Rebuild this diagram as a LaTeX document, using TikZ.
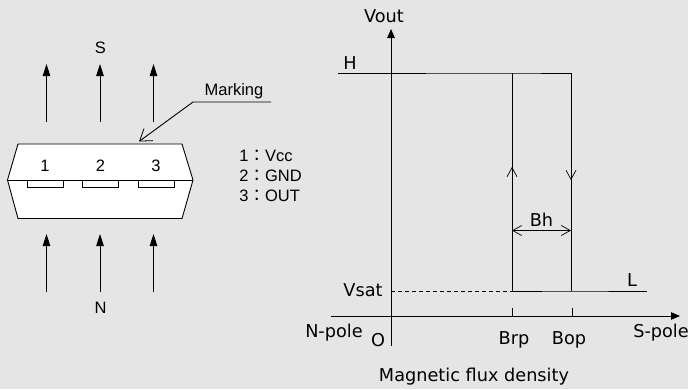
\documentclass[tikz,border=0pt]{standalone}
\usepackage{fontspec}
\setmainfont{Liberation Sans}
\newfontfamily\graphfont{DejaVu Sans}
\newfontfamily\cjkfont{Noto Sans CJK JP}
\usepackage{xcolor}
\usetikzlibrary{
    arrows.meta
}
\definecolor{paper}{HTML}{E5E5E5}
\begin{document}
\begin{tikzpicture}[x=1pt,y=-1pt,line width=0.9pt,
    solidtip/.style={-{Stealth[length=12pt,width=7.5pt,inset=0pt]}},
    opentip/.tip={Straight Barb[length=9pt,width=10pt,line width=0.7pt]},
    opentiplong/.tip={Straight Barb[length=11pt,width=15pt,line width=0.8pt]},
    pkgtext/.style={inner sep=0pt,font=\fontsize{16.5}{18}\selectfont},
    graphtext/.style={inner sep=0pt,font=\graphfont\fontsize{17.7}{19}\selectfont}]
	\useasboundingbox[fill=paper] (0,0) rectangle (688,389);

	\coordinate (topL) at (18,144);
	\coordinate (topR) at (182,144);
	\coordinate (midL) at (7.5,180);
	\coordinate (midR) at (193,180);
	\coordinate (botL) at (18,218.5);
	\coordinate (botR) at (182,218.5);
	\draw [fill=white] (topL) -- (topR) -- (midR) -- (botR) -- (botL) -- (midL) -- cycle;
	\draw (midL) -- (midR);
	\draw (27,180) rectangle (63,187.5);
	\draw (82.5,180) rectangle (118,187.5);
	\draw (138,180) rectangle (174,187.5);
	\node [pkgtext] (pin1) at (45,166) {1};
	\node [pkgtext] (pin2) at (100.5,166) {2};
	\node [pkgtext] (pin3) at (156,166) {3};

	\node [pkgtext] (S) at (100.5,48) {S};
	\node [pkgtext] (N) at (100.5,308) {N};
	\coordinate (sa1) at (46.5,122);
	\coordinate (sb1) at (46.5,64);
	\coordinate (sa2) at (100,122);
	\coordinate (sb2) at (100,64);
	\coordinate (sa3) at (153.5,122);
	\coordinate (sb3) at (153.5,64);
	\draw [solidtip] (sa1) -- (sb1);
	\draw [solidtip] (sa2) -- (sb2);
	\draw [solidtip] (sa3) -- (sb3);
	\coordinate (na1) at (46.5,292);
	\coordinate (nb1) at (46.5,234);
	\coordinate (na2) at (100,292);
	\coordinate (nb2) at (100,234);
	\coordinate (na3) at (153.5,292);
	\coordinate (nb3) at (153.5,234);
	\draw [solidtip] (na1) -- (nb1);
	\draw [solidtip] (na2) -- (nb2);
	\draw [solidtip] (na3) -- (nb3);

	\node [pkgtext] (marking) at (234,91) {Marking};
	\coordinate (markA) at (271,102);
	\coordinate (markB) at (193,102);
	\coordinate (markC) at (139,141.5);
	\draw [-opentiplong] (markA) -- (markB) -- (markC);

	\node [pkgtext,anchor=west] (vcc) at (239,156) {1{\cjkfont：}Vcc};
	\node [pkgtext,anchor=west] (gnd) at (239,176) {2{\cjkfont：}GND};
	\node [pkgtext,anchor=west] (out) at (239,196) {3{\cjkfont：}OUT};

	\coordinate (yA) at (391,346);
	\coordinate (yB) at (391,29);
	\coordinate (xA) at (331,316);
	\coordinate (xB) at (680,316);
	\draw [-{Stealth[length=9pt,width=7.5pt,inset=0pt]}] (yA) -- (yB);
	\draw [-{Stealth[length=9pt,width=7.5pt,inset=0pt]}] (xA) -- (xB);

	\coordinate (hA) at (338,73);
	\coordinate (hB) at (512,73);
	\coordinate (hC) at (571,73);
	\coordinate (lA) at (512,291);
	\coordinate (lB) at (571,291);
	\coordinate (lC) at (647,291);
	\coordinate (vs) at (391,291);
	\draw (hA) -- (hB) -- (hC) -- (lB);
	\draw (hB) -- (lA) -- (lB) -- (lC);
	\draw [dashed,dash pattern=on 4pt off 3pt] (vs) -- (lA);
	\coordinate (upA) at (512,185);
	\coordinate (upB) at (512,167);
	\coordinate (downA) at (571,165);
	\coordinate (downB) at (571,180);
	\draw [-opentip] (upA) -- (upB);
	\draw [-opentip] (downA) -- (downB);
	\coordinate (bhA) at (512,230.5);
	\coordinate (bhB) at (571,230.5);
	\draw [opentip-opentip] (bhA) -- (bhB);
	\coordinate (t1A) at (512,308);
	\coordinate (t1B) at (512,316);
	\coordinate (t2A) at (572,308);
	\coordinate (t2B) at (572,316);
	\draw (t1A) -- (t1B);
	\draw (t2A) -- (t2B);

	\node [graphtext] (vout) at (384,16) {Vout};
	\node [graphtext] (H) at (350,63) {H};
	\node [graphtext] (vsat) at (363,290) {Vsat};
	\node [graphtext] (L) at (632,280) {L};
	\node [graphtext] (npole) at (334,333) {N-pole};
	\node [graphtext] (O) at (378,340) {O};
	\node [graphtext] (brp) at (514,340) {Brp};
	\node [graphtext] (bop) at (569,340) {Bop};
	\node [graphtext] (spole) at (661,333) {S-pole};
	\node [graphtext] (Bh) at (541.5,220) {Bh};
	\node [graphtext] (flux) at (474,377) {Magnetic flux density};
\end{tikzpicture}
\end{document}
